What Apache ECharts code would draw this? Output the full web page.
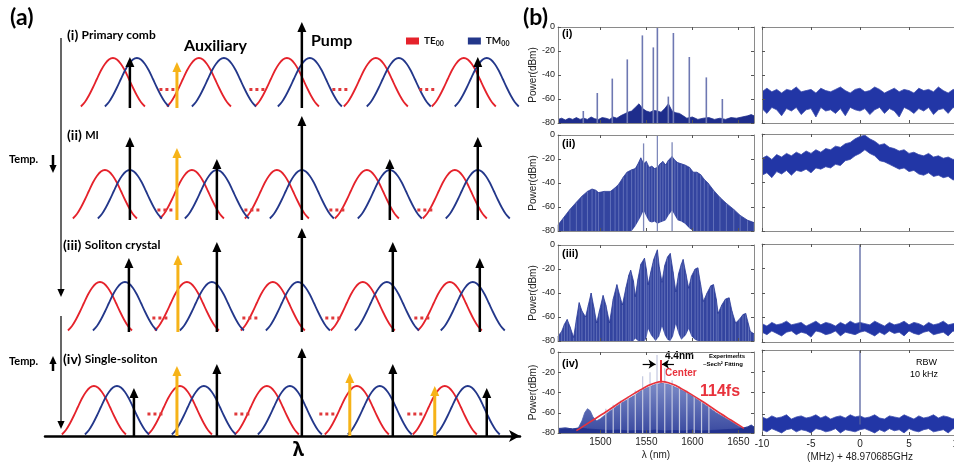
<!DOCTYPE html>
<html>
<head>
<meta charset="utf-8">
<script src="https://cdn.jsdelivr.net/npm/echarts@6/dist/echarts.min.js"></script>
<style>
  html, body { margin: 0; padding: 0; background: #fff; }
  #chart { width: 954px; height: 465px; }
</style>
</head>
<body>
<div id="chart"></div>
<script>
// ---------- (a) schematic: x in FSR units (pump = 0), y in units of resonance peak ----------
const teCenters = [
  [-2.148, -1.170, -0.170, 0.841, 1.841],
  [-2.239, -1.250, -0.284, 0.739, 1.739],
  [-2.295, -1.307, -0.330, 0.693, 1.682],
  [-2.364, -1.386, -0.398, 0.625, 1.625]
];
const tmCenters = [
  [-1.875, -0.886, 0.091, 1.102, 2.102],
  [-1.955, -0.966, 0.000, 1.000, 2.000],
  [-2.011, -1.023, -0.045, 0.966, 1.943],
  [-2.102, -1.114, -0.136, 0.886, 1.886]
];
const blackArrowX = [
  [-1.955, 0, 2.0],
  [-1.955, -0.966, 0, 1.0, 2.0],
  [-1.966, -0.966, 0, 1.034, 2.023],
  [-1.909, -0.966, 0, 1.034, 2.102]
];
const blackArrowH = [
  [1.02, 1.72, 1.02],
  [1.66, 1.22, 2.08, 1.22, 1.66],
  [1.48, 1.80, 2.08, 1.80, 1.48],
  [0.96, 1.44, 1.76, 1.44, 0.96]
];
const yellowArrowX = [[-1.420], [-1.420], [-1.409], [-1.420, 0.545, 1.511]];
const yellowArrowH = [[0.92], [1.44], [1.54], [1.40, 1.26, 1.00]];
const dotsX = [
  [-1.534, -0.511, 0.432, 1.420],
  [-1.557, -0.568, 0.398, 1.398],
  [-1.614, -0.591, 0.352, 1.364],
  [-1.670, -0.682, 0.284, 1.284]
];
const dotsY = [0.37, 0.20, 0.28, 0.44];
// resonance line shape (offset in FSR, relative height)
const profileOffset = [-0.364, -0.318, -0.273, -0.227, -0.182, -0.136, -0.091, -0.045, 0,
                       0.045, 0.091, 0.136, 0.182, 0.227, 0.273, 0.318, 0.364];
const profileHeight = [0.03, 0.12, 0.25, 0.41, 0.58, 0.75, 0.88, 0.97, 1,
                       0.97, 0.88, 0.75, 0.58, 0.41, 0.25, 0.12, 0.03];

// ---------- (b) optical spectra (nm, dBm) ----------
const nmTicks = [1500, 1550, 1600, 1650];
const spec1LineNm = [1481.5, 1496.7, 1513.0, 1529.3, 1545.7, 1557.6, 1562.0, 1573.9, 1579.4, 1596.7, 1615.2, 1632.6];
const spec1LineDb = [-70, -55, -43, -27, -7, -17, 0, -58, -5, -25, -42, -60];
const spec1FloorNm = [1454, 1458, 1462, 1466, 1470, 1474, 1478, 1482, 1486, 1490,
  1494, 1498, 1502, 1506, 1510, 1514, 1518, 1522, 1526, 1530,
  1534, 1538, 1542, 1546, 1550, 1554, 1558, 1562, 1566, 1570,
  1574, 1578, 1582, 1586, 1590, 1594, 1600, 1606, 1612, 1618,
  1624, 1630, 1636, 1642, 1648, 1654, 1660, 1664, 1667];
const spec1FloorDb = [-77, -76, -77.5, -76, -77, -75.5, -77, -76, -77, -75,
  -76.5, -77, -75.5, -76, -77, -75, -76, -74, -72.5, -71,
  -70, -67, -64, -68, -70, -71, -69.5, -70, -71, -68,
  -64, -70, -71.5, -72, -74, -76, -75, -77, -76, -75.5,
  -77, -76, -77, -75.5, -76, -75, -74, -73, -74];

const spec2Nm = [1454, 1460, 1467, 1474, 1480, 1486, 1491, 1495, 1498, 1504,
  1511, 1516, 1520, 1525, 1529, 1534, 1538, 1541, 1544, 1547,
  1550, 1553, 1556, 1559, 1562, 1565, 1568, 1571, 1574, 1578,
  1581, 1584, 1588, 1592, 1597, 1601, 1605, 1609, 1613, 1617,
  1623, 1630, 1637, 1645, 1652, 1660, 1667];
const spec2Top = [-75, -69, -62, -56, -51, -47, -45, -46, -48, -47,
  -47, -44, -41, -35, -31, -29, -28, -24, -19, -24,
  -22, -27, -26, -28, -27, -24, -22, -25, -21, -18,
  -21, -23, -24, -25, -27, -31, -31, -33, -37, -40,
  -46, -52, -57, -62, -67, -71, -73];
const spec2Gap = [-80, -80, -80, -80, -80, -80, -80, -80, -80, -80,
  -80, -80, -80, -80, -80, -80, -76, -72, -68, -63,
  -68, -72, -73, -72, -74, -73, -72, -71, -67, -63,
  -67, -71, -72, -74, -78, -80, -80, -80, -80, -80,
  -80, -80, -80, -80, -80, -80, -80];
const spec2SpikeNm = [1547, 1562, 1578];
const spec2SpikeDb = [-7, 0, -6];

const spec3Nm = [1454, 1458, 1461, 1464, 1467, 1471, 1474, 1477, 1480, 1484,
  1487, 1490, 1493, 1496, 1499, 1503, 1506, 1510, 1514, 1518,
  1521, 1524, 1528, 1531, 1533, 1536, 1538, 1541, 1544, 1548,
  1550, 1552, 1555, 1558, 1560, 1562, 1564, 1567, 1570, 1573,
  1576, 1579, 1582, 1585, 1588, 1590, 1593, 1596, 1599, 1603,
  1606, 1609, 1612, 1616, 1620, 1623, 1626, 1628, 1632, 1636,
  1640, 1643, 1647, 1651, 1655, 1658, 1661, 1663, 1667];
const spec3Top = [-76, -72, -66, -62, -68, -77, -62, -48, -55, -60,
  -50, -40, -52, -65, -55, -42, -50, -65, -45, -33,
  -42, -50, -35, -25, -21, -30, -43, -28, -16, -11,
  -20, -33, -22, -12, -8, -4, -18, -31, -17, -10,
  -7, -22, -39, -24, -16, -12, -24, -36, -26, -20,
  -19, -33, -47, -40, -34, -33, -45, -57, -50, -45,
  -44, -55, -65, -62, -58, -57, -66, -72, -74];
const spec3Gap = [-80, -80, -80, -80, -80, -80, -80, -80, -80, -80,
  -80, -80, -80, -80, -80, -80, -80, -80, -80, -80,
  -80, -80, -80, -80, -80, -80, -78, -80, -80, -80,
  -78, -70, -75, -78, -80, -80, -76, -68, -75, -79,
  -80, -76, -66, -74, -79, -80, -75, -70, -76, -79,
  -80, -80, -80, -80, -80, -80, -80, -80, -80, -80,
  -80, -80, -80, -80, -80, -80, -80, -80, -80];

const spec4Nm = [1454, 1462, 1470, 1476, 1480, 1483, 1486, 1489, 1492, 1496,
  1500, 1508, 1522, 1537, 1545, 1552, 1560, 1567, 1574, 1582,
  1589, 1597, 1612, 1626, 1641, 1650, 1655, 1660, 1664, 1667];
const spec4Top = [-76, -75, -76, -75, -68, -60, -56, -58, -64, -68,
  -66, -60, -51, -43, -38, -35, -32, -31, -32, -35,
  -38, -42, -51, -60, -68, -73, -75, -74, -72, -74];
const spec4NoiseNm = [1454, 1462, 1470, 1478, 1486, 1494, 1502, 1510, 1520, 1530,
  1540, 1550, 1560, 1570, 1580, 1590, 1600, 1610, 1620, 1630,
  1640, 1650, 1656, 1660, 1664, 1667];
const spec4NoiseDb = [-75.5, -75, -76, -75, -76, -76.5, -77, -77.5, -77, -78,
  -77.5, -78, -77, -78, -77.5, -78, -77, -78, -77.5, -77,
  -76.5, -76, -75, -74, -72.5, -74];
const spec4CombNm = [1506, 1514, 1522, 1530, 1538, 1546, 1554, 1561.6, 1570, 1578, 1586, 1594, 1602, 1610, 1618];
const spec4CombDb = [-56, -52, -48, -44, -38, -24, -20, -3, -16, -28, -34, -38, -44, -48, -54];
const fitNm = [1474, 1478, 1493, 1508, 1522, 1537, 1545, 1552, 1560, 1567,
  1574, 1582, 1589, 1597, 1612, 1626, 1641, 1652, 1656];
const fitDb = [-77.7, -75.4, -66.7, -58, -49.4, -40.8, -36.7, -33.1, -30.3, -29.3,
  -30.3, -33.1, -36.7, -40.8, -49.4, -58, -66.7, -73, -75.4];
const centerNm = 1566;

// ---------- (b) RF beat-note spectra (MHz offset, dB) ----------
const rfMHz = [-10, -9.5, -9, -8.5, -8, -7.5, -7, -6.5, -6, -5.5, -5, -4.5, -4, -3.5, -3, -2.5, -2, -1.5, -1, -0.5,
  0, 0.5, 1, 1.5, 2, 2.5, 3, 3.5, 4, 4.5, 5, 5.5, 6, 6.5, 7, 7.5, 8, 8.5, 9, 9.5, 10];
const rf1Hi = [-54, -51, -54, -52, -55, -52, -53, -50, -54, -53, -52, -55, -51, -53, -54, -52, -50, -53, -55, -52,
  -51, -54, -53, -50, -52, -55, -53, -51, -54, -52, -53, -55, -51, -53, -52, -54, -50, -53, -55, -52, -53];
const rf1Lo = [-68, -72, -67, -69, -74, -68, -70, -67, -73, -69, -68, -75, -67, -70, -69, -72, -68, -74, -67, -69,
  -70, -68, -73, -69, -67, -72, -68, -70, -75, -67, -69, -72, -68, -70, -67, -73, -69, -68, -72, -67, -70];
const rf2Hi = [-20, -18, -21, -17, -19, -16, -18, -15, -17, -14, -16, -13, -15, -12, -13, -10, -11, -8, -7, -4,
  -2, -1, -4, -6, -9, -8, -11, -12, -14, -13, -16, -15, -17, -18, -16, -19, -18, -20, -19, -21, -20];
const rf2Lo = [-34, -32, -36, -31, -33, -30, -34, -30, -31, -29, -32, -28, -29, -27, -28, -25, -26, -22, -21, -18,
  -16, -13, -16, -18, -22, -23, -25, -27, -29, -28, -31, -30, -33, -34, -32, -35, -34, -36, -35, -38, -36];
const rf3Hi = [-65, -67, -64, -66, -65, -63, -66, -65, -64, -67, -65, -63, -66, -64, -65, -67, -64, -66, -63, -65,
  -64, -65, -66, -63, -65, -67, -64, -66, -65, -63, -66, -64, -65, -67, -64, -66, -65, -63, -66, -65, -64];
const rf3Lo = [-72, -74, -71, -73, -75, -72, -71, -74, -72, -73, -76, -71, -72, -74, -73, -71, -75, -72, -73, -74,
  -72, -71, -73, -75, -72, -74, -71, -73, -72, -75, -71, -73, -74, -72, -71, -74, -73, -72, -75, -71, -73];
const rf4Hi = [-63, -65, -62, -64, -63, -61, -65, -63, -62, -64, -63, -61, -64, -62, -65, -63, -62, -64, -61, -63,
  -62, -64, -63, -61, -64, -65, -62, -63, -64, -61, -63, -65, -62, -64, -63, -61, -64, -62, -63, -65, -62];
const rf4Lo = [-75, -77, -74, -76, -78, -75, -74, -77, -75, -76, -78, -74, -75, -77, -76, -74, -78, -75, -76, -77,
  -75, -74, -76, -78, -75, -77, -74, -76, -75, -78, -74, -76, -77, -75, -74, -77, -76, -75, -78, -74, -76];
const rfSpikeTop = [null, null, 0, -1];

// ---------- styles ----------
const TE = '#e5222b', TM = '#23378a', YEL = '#f6b318', DOT = '#e0393b';
const SPEC = '#33449f', BORDER = '#8a8a8a', RED = '#e8323c';
const FONT_A = 'Lato, "Open Sans", sans-serif';
const FONT_B = '"Liberation Sans", Arial, sans-serif';

const pairs = (xs, ys) => xs.map((x, i) => [x, ys[i]]);

function resonance(color) {
  return function (params, api) {
    const c = api.value(0), h = api.value(1);
    const pts = profileOffset.map((o, i) => api.coord([c + o, h * profileHeight[i]]));
    return { type: 'polyline', shape: { points: pts, smooth: 0.3 },
      style: { stroke: color, lineWidth: 1.8, fill: null } };
  };
}
function arrow(color, width) {
  return function (params, api) {
    const b = api.coord([api.value(0), 0]);
    const t = api.coord([api.value(0), api.value(1)]);
    return { type: 'group', children: [
      { type: 'line', shape: { x1: b[0], y1: b[1], x2: t[0], y2: t[1] + 8 }, style: { stroke: color, lineWidth: width } },
      { type: 'polygon', shape: { points: [[t[0], t[1]], [t[0] - 4.5, t[1] + 10], [t[0] + 4.5, t[1] + 10]] }, style: { fill: color } }
    ] };
  };
}
function dotsRender(params, api) {
  const p = api.coord([api.value(0), api.value(1)]);
  return { type: 'group', children: [-6, 0, 6].map(dx => ({
    type: 'rect', shape: { x: p[0] + dx - 1.5, y: p[1] - 1.5, width: 3, height: 3 }, style: { fill: DOT } })) };
}
function sticks(xi, xs, ys, color, width, from, z) {
  return { type: 'custom', xAxisIndex: xi, yAxisIndex: xi, z: z || 4, silent: true, data: pairs(xs, ys),
    renderItem: (params, api) => {
      const a = api.coord([api.value(0), from]);
      const b = api.coord([api.value(0), api.value(1)]);
      return { type: 'line', shape: { x1: a[0], y1: a[1], x2: b[0], y2: b[1] }, style: { stroke: color, lineWidth: width } };
    } };
}
function area(xi, xs, ys, fill, line, z) {
  return { type: 'line', xAxisIndex: xi, yAxisIndex: xi, z: z, silent: true, symbol: 'none',
    data: pairs(xs, ys), lineStyle: { color: line, width: line === '#fff' ? 0 : 0.8 },
    areaStyle: { color: fill, opacity: 1, origin: 'start' } };
}

// ---------- grids & axes ----------
const rowBase = [108, 220, 332, 436];
const grid = rowBase.map(b => ({ left: 45, width: 475, top: b - 105, height: 105, outerBoundsMode: 'none' }));
const optTop = [27, 135, 245, 352], optH = [96, 96, 96, 81];
const rfTop = [27, 134, 244, 350], rfH = [96, 97, 98, 85];
optTop.forEach((t, i) => grid.push({ left: 558, width: 196, top: t, height: optH[i], outerBoundsMode: 'none' }));
rfTop.forEach((t, i) => grid.push({ left: 762, width: 196, top: t, height: rfH[i], outerBoundsMode: 'none' }));

const xAxis = [], yAxis = [];
for (let r = 0; r < 4; r++) {
  xAxis.push({ gridIndex: r, type: 'value', min: -2.92, max: 2.48, show: r === 3,
    axisLabel: { show: false }, axisTick: { show: false }, splitLine: { show: false },
    axisLine: { show: true, lineStyle: { color: '#000', width: 2.5 }, symbol: ['none', 'arrow'], symbolSize: [9, 11] } });
  yAxis.push({ gridIndex: r, type: 'value', min: 0, max: 2.1, show: false });
}
const tickStyle = { inside: true, length: 3, lineStyle: { color: '#555' } };
const labelStyle = { fontFamily: FONT_B, fontSize: 10, color: '#222', formatter: v => String(v) };
const lineStyleB = { onZero: false, lineStyle: { color: BORDER, width: 1 } };
for (let g = 0; g < 8; g++) {
  const gi = 4 + g, isOpt = g < 4, last = g % 4 === 3;
  const xBase = { gridIndex: gi, type: 'value', min: isOpt ? 1454 : -10, max: isOpt ? 1667 : 10, z: 10,
    splitLine: { show: false }, axisLine: lineStyleB };
  if (!isOpt) xBase.interval = 5;
  const xTick = Object.assign({}, tickStyle, isOpt ? { customValues: nmTicks } : {});
  xAxis.push(Object.assign({}, xBase, { position: 'bottom', axisTick: xTick,
    axisLabel: Object.assign({ show: last, margin: 4 }, labelStyle, isOpt ? { customValues: nmTicks } : {}),
    name: last ? (isOpt ? 'λ (nm)' : '(MHz) + 48.970685GHz') : '', nameLocation: 'middle', nameGap: 17,
    nameTextStyle: { fontFamily: FONT_B, fontSize: 10, color: '#222' } }));
  xAxis.push(Object.assign({}, xBase, { position: 'top', axisTick: xTick, axisLabel: { show: false } }));
  const yBase = { gridIndex: gi, type: 'value', min: -80, max: 0, interval: 20, z: 10,
    splitLine: { show: false }, axisLine: lineStyleB, axisTick: tickStyle };
  yAxis.push(Object.assign({}, yBase, { position: 'left',
    axisLabel: Object.assign({ show: isOpt, margin: 3 }, labelStyle, { fontSize: 9 }),
    name: isOpt ? 'Power(dBm)' : '', nameLocation: 'middle', nameGap: 17,
    nameTextStyle: { fontFamily: FONT_B, fontSize: 10, color: '#222' } }));
  yAxis.push(Object.assign({}, yBase, { position: 'right', axisLabel: { show: false } }));
}
// axis index of grid g (0..7 of panel b): bottom x / left y
const ax = g => 4 + 2 * g;

// ---------- series ----------
const series = [];
for (let r = 0; r < 4; r++) {
  const base = { type: 'custom', xAxisIndex: r, yAxisIndex: r, silent: true };
  series.push(Object.assign({}, base, { name: 'TE00', z: 2, itemStyle: { color: TE },
    data: teCenters[r].map(c => [c, 1]), renderItem: resonance(TE) }));
  series.push(Object.assign({}, base, { name: 'TM00', z: 2, itemStyle: { color: TM },
    data: tmCenters[r].map(c => [c, 1]), renderItem: resonance(TM) }));
  series.push(Object.assign({}, base, { z: 3, data: dotsX[r].map(x => [x, dotsY[r]]), renderItem: dotsRender }));
  series.push(Object.assign({}, base, { z: 4, data: pairs(yellowArrowX[r], yellowArrowH[r]), renderItem: arrow(YEL, 3) }));
  series.push(Object.assign({}, base, { z: 4, data: pairs(blackArrowX[r], blackArrowH[r]), renderItem: arrow('#000', 2.5) }));
}
// optical (i)
series.push(area(ax(0), spec1FloorNm, spec1FloorDb, '#1e2d8c', '#1e2d8c', 2));
series.push(sticks(ax(0), spec1LineNm, spec1LineDb, '#6e78b2', 1.6, -80));
// optical (ii): envelope, light comb streaks, white gaps near pump
series.push(area(ax(1), spec2Nm, spec2Top, SPEC, '#2b3b98', 2));
series.push(sticks(ax(1), spec2Nm, spec2Top, '#6d7bc0', 0.8, -80, 2));
series.push(area(ax(1), spec2Nm, spec2Gap, '#fff', '#fff', 3));
series.push(sticks(ax(1), spec2SpikeNm, spec2SpikeDb, '#7e88ba', 1.3, -80));
// optical (iii)
series.push(area(ax(2), spec3Nm, spec3Top, SPEC, '#2b3b98', 2));
series.push(sticks(ax(2), spec3Nm, spec3Top, '#6d7bc0', 0.8, -80, 2));
series.push(area(ax(2), spec3Nm, spec3Gap, '#fff', '#fff', 3));
// optical (iv)
series.push(sticks(ax(3), spec4CombNm, spec4CombDb, '#c3c8e0', 1.2, -80));
series.push(area(ax(3), spec4Nm, spec4Top,
  { type: 'linear', x: 0, y: 0, x2: 0, y2: 1, colorStops: [{ offset: 0, color: '#7b8ac6' }, { offset: 1, color: '#3a4aa0' }] },
  '#5566b0', 3));
series.push(area(ax(3), spec4NoiseNm, spec4NoiseDb, '#22328f', '#22328f', 3));
series.push({ type: 'line', xAxisIndex: ax(3), yAxisIndex: ax(3), z: 5, silent: true, symbol: 'none', smooth: 0.3,
  data: pairs(fitNm, fitDb), lineStyle: { color: RED, width: 1.6 },
  markLine: { silent: true, animation: false, symbol: 'none', label: { show: false },
    data: [
      [{ coord: [centerNm, -8], lineStyle: { color: RED, width: 2, type: 'solid' } }, { coord: [centerNm, -30] }],
      [{ coord: [1546, -12], symbol: 'none', lineStyle: { color: '#000', width: 1.2, type: 'solid' } },
       { coord: [1560, -12], symbol: 'arrow', symbolSize: 7 }],
      [{ coord: [1580, -12], symbol: 'none', lineStyle: { color: '#000', width: 1.2, type: 'solid' } },
       { coord: [1567, -12], symbol: 'arrow', symbolSize: 7 }]
    ] } });
// RF
const rfHi = [rf1Hi, rf2Hi, rf3Hi, rf4Hi], rfLo = [rf1Lo, rf2Lo, rf3Lo, rf4Lo];
for (let k = 0; k < 4; k++) {
  const xi = ax(4 + k);
  series.push(area(xi, rfMHz, rfHi[k], '#2236a6', '#3c4cad', 2));
  series.push(area(xi, rfMHz, rfLo[k], '#fff', '#3c4cad', 3));
  if (rfSpikeTop[k] !== null) series.push(sticks(xi, [0], [rfSpikeTop[k]], '#56629f', 1.3, -70));
}

// ---------- text & decorations ----------
const t = (x, y, text, font, fill) => ({ type: 'text', left: x, top: y,
  style: { text: text, font: font, fill: fill || '#000' } });
const rich = (a, b, sa, sb) => ({ text: '{a|' + a + '} {b|' + b + '}', fill: '#000',
  rich: { a: { fontFamily: FONT_A, fontWeight: 'bold', fontSize: sa }, b: { fontFamily: FONT_A, fontWeight: 'bold', fontSize: sb } } });
const vArrow = (x, y1, y2, w, head) => {
  const dir = y2 > y1 ? 1 : -1;
  return [
    { type: 'line', shape: { x1: x, y1: y1, x2: x, y2: y2 - dir * head }, style: { stroke: '#000', lineWidth: w } },
    { type: 'polygon', shape: { points: [[x, y2], [x - head * 0.45, y2 - dir * head], [x + head * 0.45, y2 - dir * head]] }, style: { fill: '#000' } }
  ];
};
const graphic = [
  t(10, 6, '(a)', 'bold 23px ' + FONT_A),
  t(523, 6, '(b)', 'bold 23px ' + FONT_A),
  { type: 'text', left: 67, top: 28, style: rich('(i)', 'Primary comb', 14, 12) },
  { type: 'text', left: 67, top: 128, style: rich('(ii)', 'MI', 14, 11) },
  { type: 'text', left: 63, top: 238, style: rich('(iii)', 'Soliton crystal', 14, 12) },
  { type: 'text', left: 63, top: 352, style: rich('(iv)', 'Single-soliton', 14, 12) },
  t(184, 38, 'Auxiliary', 'bold 16px ' + FONT_A),
  t(311, 33, 'Pump', 'bold 16px ' + FONT_A),
  t(9, 154, 'Temp.', 'bold 11px ' + FONT_A),
  t(9, 356, 'Temp.', 'bold 11px ' + FONT_A),
  t(293, 441, 'λ', 'bold 19px "Noto Sans"'),
  ...vArrow(61, 38, 297, 1.2, 8),
  ...vArrow(61, 316, 429, 1.2, 8),
  ...vArrow(53, 155, 173, 2.5, 8),
  ...vArrow(53, 371, 356, 2.5, 8),
  t(562, 28, '(i)', 'bold 11px ' + FONT_B),
  t(562, 138, '(ii)', 'bold 11px ' + FONT_B),
  t(562, 248, '(iii)', 'bold 11px ' + FONT_B),
  t(562, 358, '(iv)', 'bold 11px ' + FONT_B),
  t(665, 351, '4.4nm', 'bold 10px ' + FONT_B),
  t(665, 368, 'Center', 'bold 10px ' + FONT_B, RED),
  t(709, 353, 'Experiments', 'bold 6px ' + FONT_B),
  t(703, 361, '~Sech² Fitting', 'bold 6px ' + FONT_B),
  t(700, 384, '114fs', 'bold 16px ' + FONT_B, RED),
  t(916, 358, 'RBW', '9px ' + FONT_B),
  t(910, 370, '10 kHz', '9px ' + FONT_B)
];

const chart = echarts.init(document.getElementById('chart'));
chart.setOption({
  animation: false,
  backgroundColor: '#fff',
  legend: {
    data: ['TE00', 'TM00'], left: 401, top: 31, itemWidth: 13, itemHeight: 7, itemGap: 24,
    icon: 'rect', selectedMode: false,
    formatter: n => n.slice(0, 2) + '{s|' + n.slice(2) + '}',
    textStyle: { fontFamily: FONT_A, fontWeight: 'bold', fontSize: 10, color: '#111',
      rich: { s: { fontFamily: FONT_A, fontWeight: 'bold', fontSize: 7, padding: [5, 0, 0, 0] } } }
  },
  grid: grid,
  xAxis: xAxis,
  yAxis: yAxis,
  series: series,
  graphic: graphic
});
</script>
</body>
</html>
